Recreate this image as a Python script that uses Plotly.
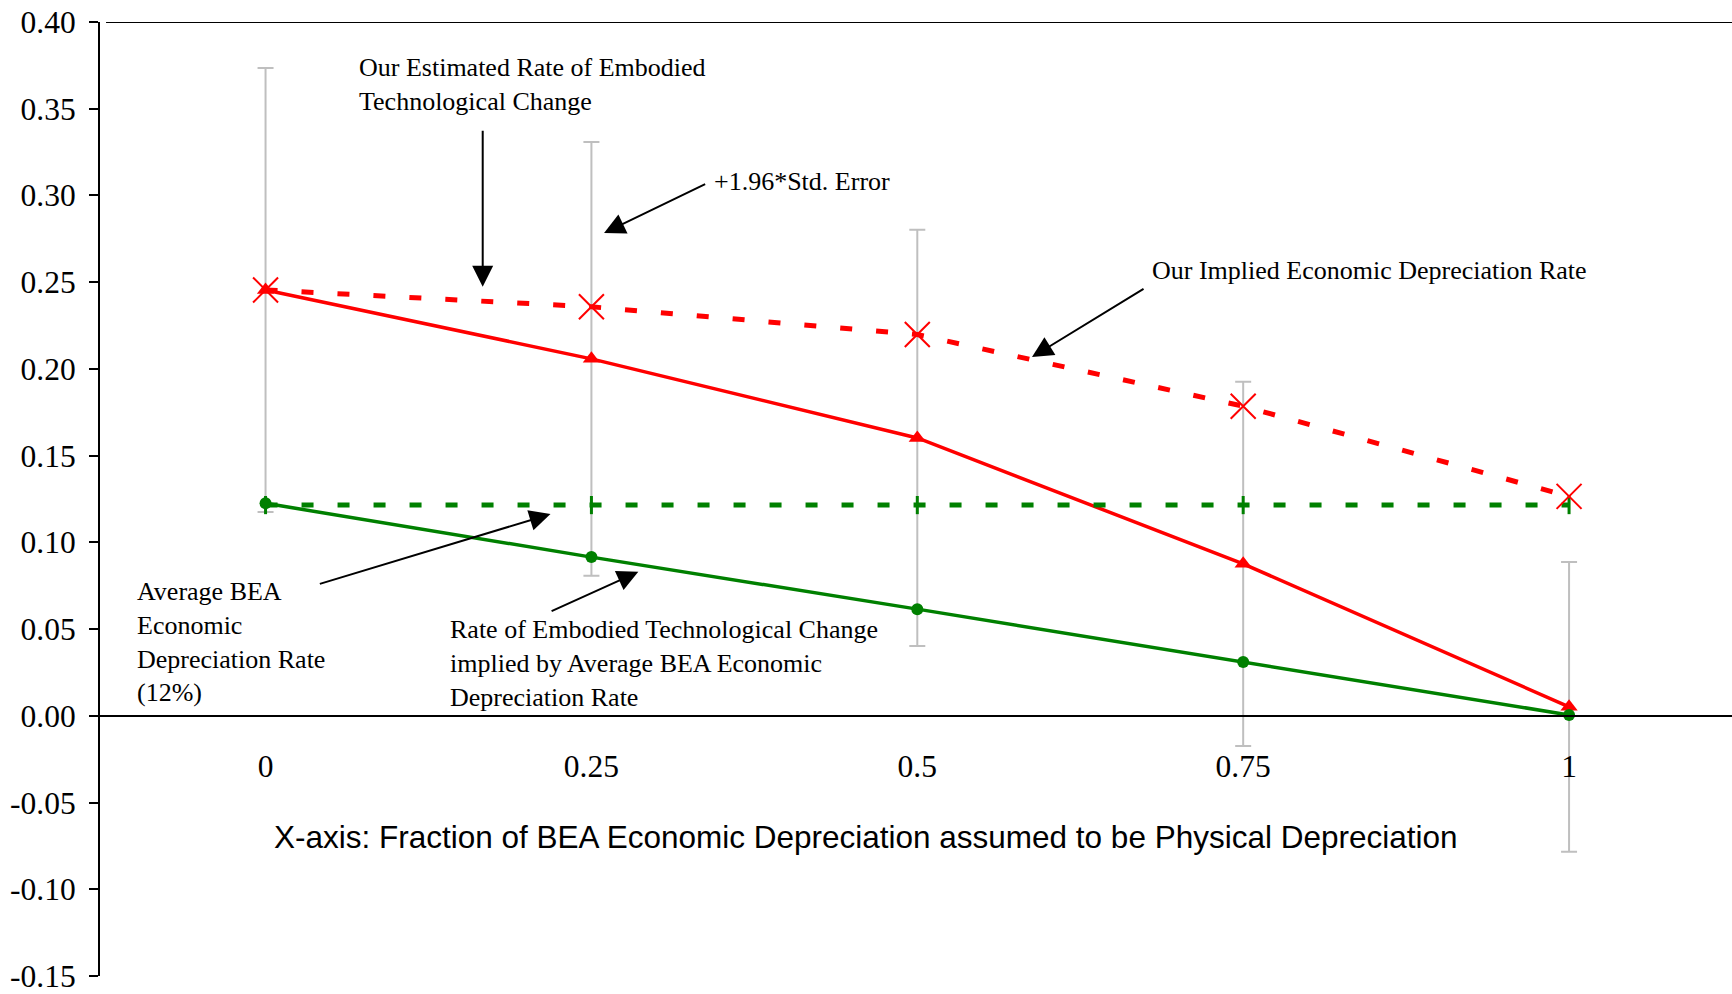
import plotly.graph_objects as go

# ---- data ----
x_vals = [0, 0.25, 0.5, 0.75, 1]
x_labels = ["0", "0.25", "0.5", "0.75", "1"]
est_rate = [0.2455, 0.2358, 0.2198, 0.1785, 0.1265]        # Our estimated rate of embodied tech change
implied_dep = [0.2455, 0.2058, 0.1602, 0.0876, 0.0052]     # Our implied economic depreciation rate
err_half = [0.128, 0.125, 0.120, 0.105, 0.0835]            # 1.96*Std. Error
bea_avg = [0.1215, 0.1215, 0.1215, 0.1215, 0.1215]         # Average BEA economic depreciation rate
bea_implied = [0.1225, 0.0915, 0.0615, 0.031, 0.0005]      # Rate implied by average BEA rate
y_ticks = [-0.15, -0.10, -0.05, 0.00, 0.05, 0.10, 0.15, 0.20, 0.25, 0.30, 0.35, 0.40]
y_tick_labels = ["-0.15", "-0.10", "-0.05", "0.00", "0.05", "0.10", "0.15",
                 "0.20", "0.25", "0.30", "0.35", "0.40"]

RED = "#FF0000"
GREEN = "#008000"
SERIF = "Liberation Serif, Times New Roman, serif"
SANS = "Liberation Sans, Arial, sans-serif"

fig = go.Figure()

# implied depreciation (solid red) with error bars
fig.add_trace(go.Scatter(
    x=x_vals, y=implied_dep, mode="lines+markers",
    line=dict(color=RED, width=3.5),
    marker=dict(symbol="triangle-up", size=15, color=RED),
    error_y=dict(type="data", array=err_half, symmetric=True,
                 color="#BFBFBF", thickness=2, width=8),
    showlegend=False))

# BEA implied (solid green)
fig.add_trace(go.Scatter(
    x=x_vals, y=bea_implied, mode="lines+markers",
    line=dict(color=GREEN, width=3.5),
    marker=dict(symbol="circle", size=12, color=GREEN),
    showlegend=False))

# BEA average (dashed green)
fig.add_trace(go.Scatter(
    x=x_vals, y=bea_avg, mode="lines+markers",
    line=dict(color=GREEN, width=5, dash="12px,24px"),
    marker=dict(symbol="line-ns", size=13, color=GREEN,
                line=dict(color=GREEN, width=3)),
    showlegend=False))

# estimated rate (dashed red)
fig.add_trace(go.Scatter(
    x=x_vals, y=est_rate, mode="lines+markers",
    line=dict(color=RED, width=5, dash="12px,24px"),
    marker=dict(symbol="x-thin", size=25, color=RED,
                line=dict(color=RED, width=2)),
    showlegend=False))

ann_font = dict(family=SERIF, size=26, color="black")

def txt(x, y, text):
    return dict(x=x, y=y, xref="x", yref="y", text=text, showarrow=False,
                xanchor="left", yanchor="middle", align="left", font=ann_font)

def arrow(x, y, ax, ay):
    return dict(x=x, y=y, ax=ax, ay=ay, xref="x", yref="y", axref="x", ayref="y",
                text="", showarrow=True, arrowhead=2, arrowsize=2.1, arrowwidth=2,
                arrowcolor="black", standoff=0, startstandoff=0)

annotations = [
    txt(0.0700, 0.3639, "Our Estimated Rate of Embodied<br>Technological Change"),
    txt(0.3425, 0.3083, "+1.96*Std. Error"),
    txt(0.6785, 0.2569, "Our Implied Economic Depreciation Rate"),
    txt(-0.1000, 0.0427, "Average BEA<br>Economic<br>Depreciation Rate<br>(12%)"),
    txt(0.1400, 0.0302, "Rate of Embodied Technological Change<br>implied by Average BEA Economic<br>Depreciation Rate"),
    arrow(0.1666, 0.2474, 0.1666, 0.3381),
    arrow(0.2597, 0.2783, 0.3384, 0.3069),
    arrow(0.5880, 0.2068, 0.6747, 0.2467),
    arrow(0.2186, 0.1163, 0.0405, 0.0758),
    arrow(0.2860, 0.0830, 0.2183, 0.0600),
    dict(x=0.4607, y=-0.0698, xref="x", yref="y", showarrow=False,
         text="X-axis: Fraction of BEA Economic Depreciation assumed to be Physical Depreciation",
         xanchor="center", yanchor="middle",
         font=dict(family=SANS, size=31.5, color="black")),
]

fig.update_layout(
    width=1732, height=994,
    margin=dict(l=100, r=0, t=22, b=18),
    paper_bgcolor="white", plot_bgcolor="white",
    font=dict(family=SERIF, size=31.5, color="black"),
    annotations=annotations,
    shapes=[dict(type="line", xref="paper", yref="y", x0=0.0037, x1=1,
                 y0=0.40, y1=0.40, line=dict(color="black", width=2))],
    xaxis=dict(range=[-0.127, 1.125], anchor="free", position=0.15 / 0.55,
               showline=True, linecolor="black", linewidth=2,
               showgrid=False, zeroline=False, ticks="",
               tickvals=x_vals, ticktext=x_labels, ticklabelstandoff=22,
               tickfont=dict(family=SERIF, size=31.5, color="black")),
    yaxis=dict(range=[-0.15, 0.40], showline=True, linecolor="black", linewidth=2,
               showgrid=False, zeroline=False, ticks="outside", ticklen=9,
               tickwidth=2, tickcolor="black", tickvals=y_ticks,
               ticktext=y_tick_labels, ticklabelstandoff=7,
               ticklabeloverflow="allow",
               tickfont=dict(family=SERIF, size=31.5, color="black")),
)

fig.write_html("out.html", config={"displayModeBar": False},
               post_script="document.body.style.margin='0';document.body.style.overflow='hidden';")
